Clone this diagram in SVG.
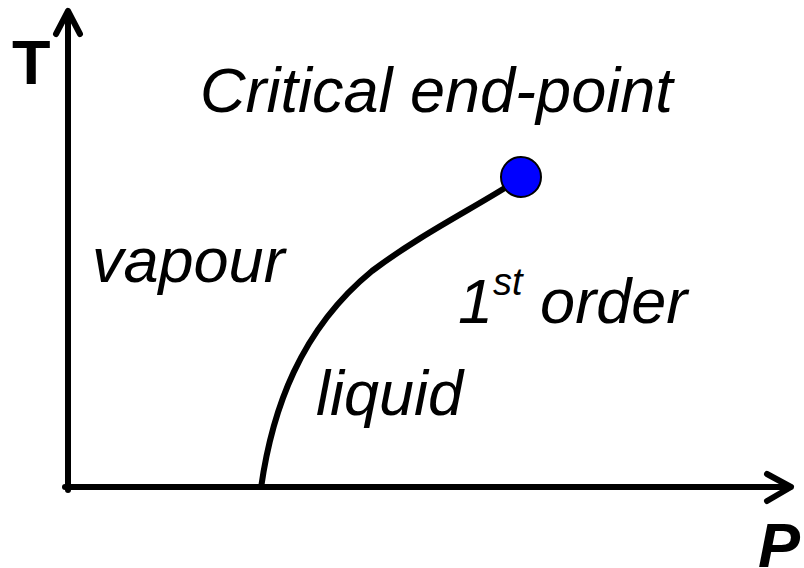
<svg xmlns="http://www.w3.org/2000/svg" width="804" height="568" viewBox="0 0 804 568">
<style>
.lbl{font-family:"Liberation Sans",Arial,sans-serif;font-style:italic;font-size:63px;fill:#000}
.ax{fill:none;stroke:#000;stroke-width:6;stroke-linecap:round;stroke-linejoin:round}
</style>
<rect width="804" height="568" fill="#fff"/>
<g id="connectors">
<path class="ax" d="M68,490 L68,12"/>
<path class="ax" d="M56,34 L68,11 L80,34"/>
<path class="ax" d="M65,487 L790,487"/>
<path class="ax" d="M767,474 L791,487 L767,501"/>
<path id="curve" fill="none" stroke="#000" stroke-width="6" d="M261,488 C272,410 300,330 372,271 C420,235 470,210 508,186"/>
</g>
<g id="point"><circle cx="521" cy="177" r="20" fill="#0000ff" stroke="#000" stroke-width="2"/></g>
<g id="axis-T"><text x="12" y="84" style="font-family:'Liberation Sans',Arial,sans-serif;font-weight:bold;font-size:63px">T</text></g>
<g id="axis-P"><text x="758" y="567" style="font-family:'Liberation Sans',Arial,sans-serif;font-weight:bold;font-style:italic;font-size:63px">P</text></g>
<g id="title"><text class="lbl" x="200" y="112">Critical end-point</text></g>
<g id="vapour"><text class="lbl" x="92" y="282">vapour</text></g>
<g id="first-order"><text class="lbl" x="458" y="323">1<tspan font-size="38" dy="-28">st</tspan><tspan dy="28"> order</tspan></text></g>
<g id="liquid"><text class="lbl" x="316" y="415">liquid</text></g>
</svg>
